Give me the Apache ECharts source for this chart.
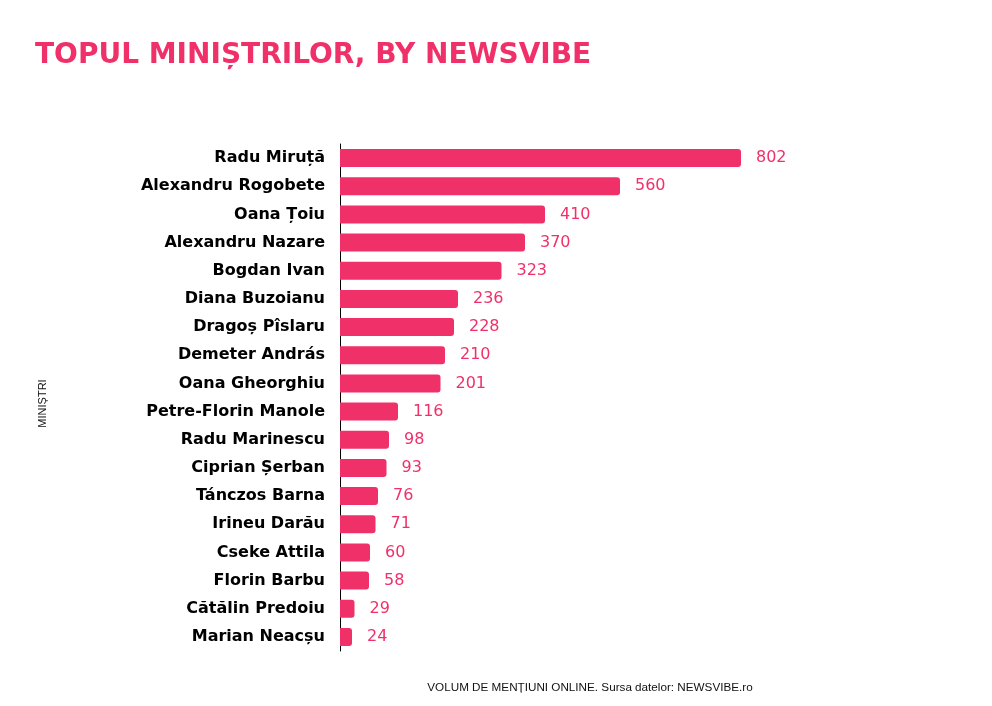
<!doctype html>
<html>
<head>
    <meta charset="utf-8">
    <title>Topul ministrilor</title>
    <script src="https://cdn.jsdelivr.net/npm/echarts@6/dist/echarts.min.js"></script>
    <style>
        html, body { margin: 0; padding: 0; background: #fff; }
    </style>
</head>
<body>
    <div id="main" style="width:992px;height:706px;"></div>
    <script type="text/javascript">
        var pink = '#f03068';

        var ministers = [
            'Radu Miruță', 'Alexandru Rogobete', 'Oana Țoiu', 'Alexandru Nazare',
            'Bogdan Ivan', 'Diana Buzoianu', 'Dragoș Pîslaru', 'Demeter András',
            'Oana Gheorghiu', 'Petre-Florin Manole', 'Radu Marinescu', 'Ciprian Șerban',
            'Tánczos Barna', 'Irineu Darău', 'Cseke Attila', 'Florin Barbu',
            'Cătălin Predoiu', 'Marian Neacșu'
        ];
        var mentions = [802, 560, 410, 370, 323, 236, 228, 210, 201, 116, 98, 93, 76, 71, 60, 58, 29, 24];

        var chart = echarts.init(document.getElementById('main'));

        chart.setOption({
            animation: false,
            title: {
                text: 'TOPUL MINIȘTRILOR, BY NEWSVIBE',
                left: 30,
                top: 37,
                textStyle: {
                    color: pink,
                    fontFamily: 'DejaVu Sans',
                    fontWeight: 'bold',
                    fontSize: 28
                }
            },
            grid: {
                left: 340,
                right: 152,
                top: 144,
                height: 507
            },
            xAxis: {
                type: 'value',
                min: 0,
                max: 1000,
                axisLine: { show: false },
                axisTick: { show: false },
                axisLabel: { show: false },
                splitLine: { show: false },
                name: 'VOLUM DE MENȚIUNI ONLINE. Sursa datelor: NEWSVIBE.ro',
                nameLocation: 'middle',
                nameGap: 31,
                nameTextStyle: {
                    color: '#111',
                    fontFamily: 'Liberation Sans',
                    fontSize: 11.7
                }
            },
            yAxis: {
                type: 'category',
                inverse: true,
                data: ministers,
                axisLine: { lineStyle: { color: '#000', width: 1 } },
                axisTick: { alignWithLabel: true, length: 6, lineStyle: { color: '#000' } },
                axisLabel: {
                    margin: 15,
                    color: '#000',
                    fontFamily: 'DejaVu Sans',
                    fontWeight: 'bold',
                    fontSize: 16
                },
                name: 'MINIȘTRI',
                nameLocation: 'middle',
                nameRotate: 90,
                nameGap: 292,
                nameTextStyle: {
                    color: '#111',
                    fontFamily: 'Liberation Sans',
                    fontSize: 11,
                    padding: [0, 12, 0, 0]
                }
            },
            series: [{
                type: 'bar',
                data: mentions,
                barWidth: 18,
                itemStyle: {
                    color: pink,
                    borderRadius: [0, 3, 3, 0]
                },
                label: {
                    show: true,
                    position: 'right',
                    distance: 15,
                    color: pink,
                    fontFamily: 'DejaVu Sans',
                    fontSize: 16
                }
            }]
        });
    </script>
</body>
</html>
